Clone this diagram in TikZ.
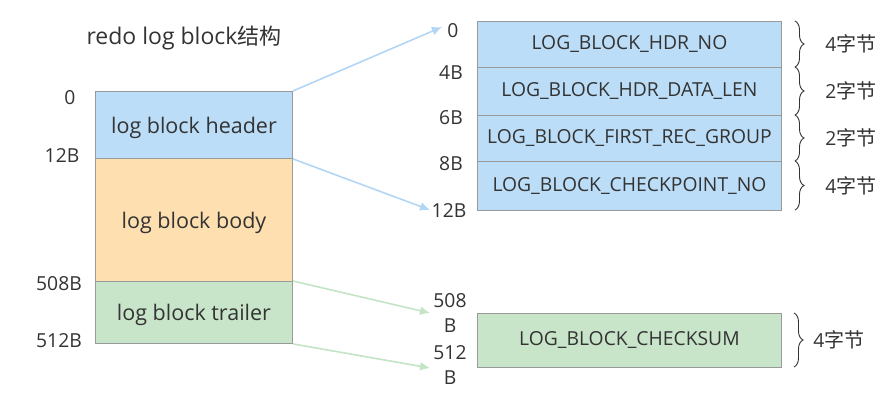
\documentclass[tikz,border=0pt]{standalone}
\usepackage{fontspec}
\setmainfont{Open Sans}
\newfontfamily\cjk{Noto Sans CJK SC}
\usetikzlibrary{decorations.pathreplacing,arrows.meta}
\definecolor{bluefill}{HTML}{BBDDF7}
\definecolor{orangefill}{HTML}{FDDFB0}
\definecolor{greenfill}{HTML}{C8E5C9}
\definecolor{bluearrow}{HTML}{B3D6F4}
\definecolor{greenarrow}{HTML}{C3E4C5}
\definecolor{boxline}{HTML}{9A9A9A}
\definecolor{txt}{HTML}{333333}
\newcommand{\zh}[1]{{\cjk\fontsize{20}{22}\selectfont #1}}
\newcommand{\zhbig}[1]{{\cjk\fontsize{22}{24}\selectfont #1}}
\tikzset{
  x=1pt,y=-1pt,
  seg/.style={draw=boxline,line width=0.9pt,minimum width=197pt,inner sep=0pt,text depth=0pt,font=\fontsize{21.5}{23}\selectfont,text=txt},
  fld/.style={draw=boxline,line width=0.9pt,minimum width=304pt,inner sep=0pt,fill=bluefill,font=\fontsize{19.3}{21}\selectfont,text=txt},
  lbl/.style={font=\fontsize{19.3}{21}\selectfont,text=txt,inner sep=0pt},
  brc/.style={decorate,decoration={brace,amplitude=9pt},draw=txt,line width=0.9pt},
  conn/.style={line width=1.6pt},
}
\begin{document}
\begin{tikzpicture}
\useasboundingbox (0,0) rectangle (895,402);
% title
\node[lbl,font=\fontsize{23}{25}\selectfont] (title) at (184,38) {redo log block\zhbig{结构}};
% left block
\node[seg,fill=bluefill,minimum height=67pt,anchor=north west] (hdr) at (95,91) {log block header};
\node[seg,fill=orangefill,minimum height=123pt,anchor=north west] (body) at (95,158) {log block body};
\node[seg,fill=greenfill,minimum height=62pt,anchor=north west] (trl) at (95,281) {log block trailer};
\node[lbl] (l0) at (70,98) {0};
\node[lbl] (l12) at (62,156) {12B};
\node[lbl] (l508) at (59,284) {508B};
\node[lbl] (l512) at (59,341) {512B};
% right header fields
\node[fld,minimum height=46pt,anchor=north west] (f1) at (477,21) {LOG\_BLOCK\_HDR\_NO};
\node[fld,minimum height=48pt,anchor=north west] (f2) at (477,67) {LOG\_BLOCK\_HDR\_DATA\_LEN};
\node[fld,minimum height=46pt,anchor=north west] (f3) at (477,115) {LOG\_BLOCK\_FIRST\_REC\_GROUP};
\node[fld,minimum height=49pt,anchor=north west] (f4) at (477,161) {LOG\_BLOCK\_CHECKPOINT\_NO};
\node[lbl] (r0) at (453,31) {0};
\node[lbl] (r4) at (451,73) {4B};
\node[lbl] (r6) at (451,118) {6B};
\node[lbl] (r8) at (451,164) {8B};
\node[lbl] (r12) at (449,211) {12B};
% checksum
\node[fld,fill=greenfill,minimum height=54pt,anchor=north west] (cks) at (477,313) {LOG\_BLOCK\_CHECKSUM};
\node[lbl,align=center,font=\fontsize{19.3}{25}\selectfont] (r508) at (450,313) {508\\B};
\node[lbl,align=center,font=\fontsize{19.3}{25}\selectfont] (r512) at (450,365) {512\\B};
% braces
\draw[brc] (795,21) -- (795,67) node[midway,right=30pt,lbl] (b1) {4\zh{字节}};
\draw[brc] (795,67) -- (795,115) node[midway,right=30pt,lbl] (b2) {2\zh{字节}};
\draw[brc] (795,115) -- (795,161) node[midway,right=30pt,lbl] (b3) {2\zh{字节}};
\draw[brc] (795,161) -- (795,210) node[midway,right=30pt,lbl] (b4) {4\zh{字节}};
\draw[brc] (794,313) -- (794,367) node[midway,right=19pt,lbl] (b5) {4\zh{字节}};
% arrows
\coordinate (a1) at (442,27);
\coordinate (a2) at (430,210);
\coordinate (a3) at (430,313);
\coordinate (a4) at (430,368);
\draw[conn,draw=bluearrow,-{Latex[length=10pt,width=9pt,color=bluearrow]}] (hdr.north east) -- (a1);
\draw[conn,draw=bluearrow,-{Latex[length=10pt,width=9pt,color=bluearrow]}] (hdr.south east) -- (a2);
\draw[conn,draw=greenarrow,-{Latex[length=10pt,width=9pt,color=greenarrow]}] (trl.north east) -- (a3);
\draw[conn,draw=greenarrow,-{Latex[length=10pt,width=9pt,color=greenarrow]}] (trl.south east) -- (a4);
\end{tikzpicture}
\end{document}
